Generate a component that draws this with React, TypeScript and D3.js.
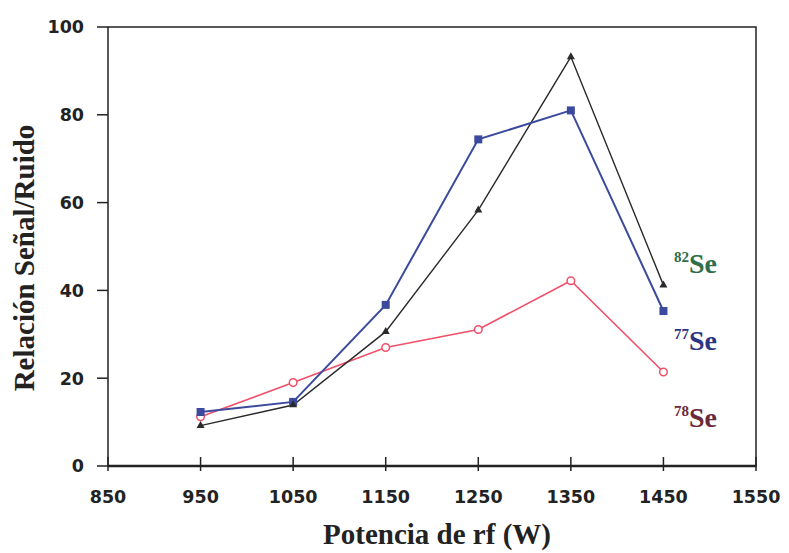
import React from "react";
import * as d3 from "d3";

const powers = [950, 1050, 1150, 1250, 1350, 1450];
const se77 = [12.3, 14.6, 36.7, 74.4, 81.0, 35.3];
const se82 = [9.2, 13.9, 30.6, 58.3, 93.2, 41.2];
const se78 = [11.2, 19.0, 27.0, 31.1, 42.2, 21.4];
const xTicks = [850, 950, 1050, 1150, 1250, 1350, 1450, 1550];
const yTicks = [0, 20, 40, 60, 80, 100];
const isotopes = [
  { mass: "82", color: "#2f6e4a", y: 273 },
  { mass: "77", color: "#2b3580", y: 350 },
  { mass: "78", color: "#6b2a3a", y: 427 },
];

const W = 789, H = 553;
const left = 108, right = 756, top = 27, bottom = 466;

export default function App() {
  const x = d3.scaleLinear().domain([850, 1550]).range([left, right]);
  const y = d3.scaleLinear().domain([0, 100]).range([bottom, top]);
  const line = d3.line<number>().x((_, i) => x(powers[i])).y((d) => y(d));
  const tickFont = "'DejaVu Sans', Arial, sans-serif";
  const serif = "'Liberation Serif', 'Times New Roman', serif";
  const blue = "#3b4a9c";
  const black = "#2a2a2a";
  const red = "#f0506a";
  const tri = d3.symbol().type(d3.symbolTriangle).size(28)();
  return (
    <svg width={W} height={H} style={{ position: "absolute", left: 0, top: 0, background: "#fff" }}>
      <rect x={left} y={top} width={right - left} height={bottom - top} fill="none" stroke="#222" strokeWidth={1.5} />
      <line x1={left} x2={right} y1={bottom} y2={bottom} stroke="#222" strokeWidth={2.5} />
      {yTicks.map((t) => (
        <g key={"y" + t}>
          <line x1={left - 11} x2={left} y1={y(t)} y2={y(t)} stroke="#222" strokeWidth={1.5} />
          <text x={left - 24} y={y(t)} dy="0.36em" textAnchor="end" fontFamily={tickFont} fontWeight="bold" fontSize={17.5} fill="#222">{t}</text>
        </g>
      ))}
      {xTicks.map((t) => (
        <g key={"x" + t}>
          <line x1={x(t)} x2={x(t)} y1={bottom - 9} y2={bottom + 5} stroke="#222" strokeWidth={1.5} />
          <text x={x(t)} y={497} dy="0.36em" textAnchor="middle" fontFamily={tickFont} fontWeight="bold" fontSize={17.5} fill="#222">{t}</text>
        </g>
      ))}
      <text x={437} y={544} textAnchor="middle" fontFamily={serif} fontWeight="bold" fontSize={29} fill="#222">Potencia de rf (W)</text>
      <text transform={`translate(34,258) rotate(-90)`} textAnchor="middle" fontFamily={serif} fontWeight="bold" fontSize={29} fill="#222">Relación Señal/Ruido</text>

      <path d={line(se78) || ""} fill="none" stroke={red} strokeWidth={1.6} />
      <path d={line(se82) || ""} fill="none" stroke={black} strokeWidth={1.4} />
      <path d={line(se77) || ""} fill="none" stroke={blue} strokeWidth={2} />

      {se78.map((v, i) => (
        <circle key={"c" + i} cx={x(powers[i])} cy={y(v)} r={3.8} fill="#fff" stroke={red} strokeWidth={1.5} />
      ))}
      {se77.map((v, i) => (
        <rect key={"s" + i} x={x(powers[i]) - 4} y={y(v) - 4} width={8} height={8} fill={blue} />
      ))}
      {se82.map((v, i) => (
        <path key={"t" + i} d={tri || ""} transform={`translate(${x(powers[i])},${y(v)})`} fill={black} />
      ))}

      {isotopes.map((iso) => (
        <text key={iso.mass} x={674} y={iso.y} fontFamily={serif} fill={iso.color} fontWeight="bold">
          <tspan fontSize={15} dy={-11}>{iso.mass}</tspan>
          <tspan fontSize={28} dy={11}>Se</tspan>
        </text>
      ))}
    </svg>
  );
}
